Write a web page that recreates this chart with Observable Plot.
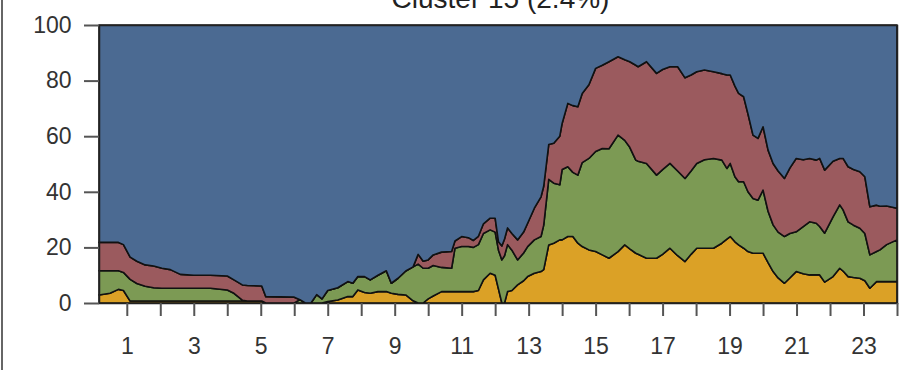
<!DOCTYPE html>
<html>
<head>
<meta charset="utf-8">
<script src="https://cdn.jsdelivr.net/npm/d3@7"></script>
<script src="https://cdn.jsdelivr.net/npm/@observablehq/plot@0.6"></script>
<style>
  html, body { margin: 0; padding: 0; background: #fff; }
  body { width: 901px; height: 370px; position: relative; overflow: hidden; font-family: "Liberation Sans", Arial, sans-serif; }
  #edge { position: absolute; left: 1px; top: 0; width: 2px; height: 370px; background: #666; }
  #chart { position: absolute; left: 0; top: 0; }
</style>
</head>
<body>
<div id="chart"></div>
<div id="edge"></div>
<script>
const title = "Cluster 15 (2.4%)";
const seriesNames = ["S1", "S2", "S3", "S4"]; // bottom to top
const seriesColors = ["#dba126", "#7c9a54", "#9b5a5e", "#4b6a92"];
const xTicks = [1,2,3,4,5,6,7,8,9,10,11,12,13,14,15,16,17,18,19,20,21,22,23,24];
const xTickLabels = ["1","","3","","5","","7","","9","","11","","13","","15","","17","","19","","21","","23",""];
const yTicks = [0, 20, 40, 60, 80, 100];

const hours = [0.17,0.5,0.75,0.9,1.1,1.3,1.55,1.8,2.05,2.3,2.6,3.0,3.5,4.0,4.2,4.45,4.6,5.03,5.15,6.0,6.17,6.33,6.5,6.67,6.83,7.0,7.3,7.6,7.75,7.9,8.1,8.27,8.5,8.75,8.9,9.1,9.33,9.55,9.7,9.85,10.0,10.15,10.4,10.7,10.8,11.0,11.2,11.35,11.5,11.65,11.85,12.0,12.1,12.2,12.28,12.37,12.5,12.67,12.85,12.97,13.17,13.37,13.45,13.6,13.75,13.93,14.0,14.17,14.32,14.47,14.6,14.8,15.0,15.2,15.4,15.67,15.87,16.02,16.2,16.27,16.52,16.82,17.0,17.22,17.45,17.67,17.85,18.02,18.25,18.52,18.77,18.92,19.02,19.16,19.27,19.42,19.55,19.7,19.85,20.0,20.15,20.3,20.45,20.64,20.8,20.99,21.2,21.39,21.59,21.69,21.84,22.09,22.29,22.39,22.54,22.7,22.89,23.04,23.19,23.39,23.49,23.69,24.0];

const s1 = [2.9,3.5,4.9,4.5,0.7,0.7,0.7,0.7,0.7,0.7,0.7,0.7,0.7,0.7,0.7,0.7,0.7,0.7,0,0,0,0,0,0,0,0.5,1.1,2.3,2.3,4.7,3.8,3.5,4.1,4.1,3.5,3.1,2.9,0.8,0,0,1.5,2.5,4.1,4.1,4.1,4.1,4.1,4.1,4.5,8.3,10.7,10,5,0,0,4.1,4.5,6.5,8,9.5,10.7,11.3,12,20.9,21.5,22.7,22.7,23.9,23.9,21.5,20.3,19.1,18.5,17.3,16.1,18.5,20.9,19.5,17.9,17.5,16.1,16.1,17.5,19.7,17,14.9,17.5,19.7,19.7,19.7,21.5,23,23.9,22,20.9,19.7,18.5,17.9,17.9,17.9,14.5,11.3,9,7.1,9,11.3,10.5,10.1,10.1,10.1,7.5,9.5,12.5,11.5,9.5,9.2,8.9,8,5.3,7.7,7.7,7.7,7.7];
const s2 = [8.7,8.1,6.7,6.5,7.8,6.3,5.3,4.8,4.6,4.6,4.6,4.6,4.6,4.0,2.8,0.3,0,0,0,0,1.2,0,0,3,1.5,4.0,4.4,5.4,4.8,4.8,5.7,4.8,5.9,7.5,3.6,5.8,8.6,12.2,14,12.5,11,11,8.7,8.4,15.6,16.2,16.2,15.9,16.5,16.7,15.6,15.5,14,15.5,17,16.9,14.5,9,10,10.8,12,12.6,16,23.6,21.6,19.8,25.3,25.1,23.1,24.5,30.2,32.9,36,38.3,39.4,41.9,37.6,36.5,33.5,33.5,34.1,29.9,30.5,30.5,30.5,29.9,30,30.5,31.8,32.3,29.9,25.4,26.3,23.4,22.7,23.9,21.5,19.7,19.1,22.7,18.5,16.8,16.5,16.8,16,14.3,17,19.1,18.6,17.4,17.6,21.5,22.8,22,19.7,18.8,18,17,12,10.8,11.4,13.3,15];
const s3 = [10.2,10.2,10.2,10.0,8.0,8.0,7.7,7.8,7.2,6.7,5.0,4.7,4.7,5.0,4.8,5.5,5.6,5.4,2.3,2.1,0,0,0,0,0,0,0,0,0,0,0,0,0,0,0,0,0,0,3.5,2.5,3,3.8,5.5,6,2.6,3.6,3.2,2.5,3,3.5,4.2,5,3,5,6,6,6,7.2,7.5,8.4,11.4,14.3,14,12.5,14.4,17.5,16.6,22.8,24,24.6,24.9,26.5,29.9,29.9,31.3,28.2,29,30.8,34.1,34,36.6,36.6,36,34.8,37.5,36.2,34.5,33,32.3,31.2,31.1,33.6,31.8,32.6,31.8,30.6,28,22.8,22.2,22.8,22,22.1,22,20.9,23.5,26.4,24,22.8,22.7,24.5,22.7,20,16.7,18.5,19.8,20,20.3,20.4,17.3,16.7,15.7,13.9,11.4];
const s4 = [78.2,78.2,78.2,79.0,83.5,85.0,86.3,86.7,87.5,88.0,89.7,90.0,90.0,90.3,91.7,93.5,93.7,93.9,97.7,97.9,98.8,100,100,97,98.5,95.5,94.5,92.3,92.9,90.5,90.5,91.7,90,88.4,92.9,91.1,88.5,87,82.5,85,84.5,82.7,81.7,81.5,77.7,76.1,76.5,77.5,76,71.5,69.5,69.5,78,79.5,77,73,75,77.3,74.5,71.3,65.9,61.8,58,43,42.5,40,35.4,28.2,29,29.4,24.6,21.5,15.6,14.5,13.2,11.4,12.5,13.2,14.5,15,13.2,17.4,16,15,15,19,18,16.8,16.2,16.8,17.5,18,18,22,24.6,25.8,32,39.6,40.8,36.6,45,49.8,52.5,55.2,51.5,48,48.5,48,48.6,48,52.2,49,48,48,51,52,52.8,54.6,65.4,64.8,65.2,65.1,65.9];

const seriesValues = [s1, s2, s3, s4];
const rows = [];
seriesValues.forEach((vals, k) => {
  vals.forEach((v, i) => rows.push({hour: hours[i], series: seriesNames[k], value: v}));
});

const chart = Plot.plot({
  width: 901,
  height: 370,
  marginLeft: 99,
  marginRight: 4,
  marginTop: 25,
  marginBottom: 67,
  style: {fontFamily: "'Liberation Sans', Arial, sans-serif", fontSize: "23px", color: "#333", background: "transparent"},
  x: {domain: [0.17, 24]},
  y: {domain: [0, 100]},
  color: {domain: seriesNames, range: seriesColors},
  marks: [
    Plot.areaY(rows, {x: "hour", y: "value", z: "series", fill: "series", order: seriesNames, stroke: "#111", strokeWidth: 1.6, strokeLinejoin: "round"}),
    Plot.frame({stroke: "#222", strokeWidth: 1.5}),
    Plot.axisY({ticks: yTicks, tickSize: 15, tickPadding: 13, stroke: "#555", strokeWidth: 2, fill: "#333", label: null, fontSize: 23}),
    Plot.axisX({ticks: xTicks, tickFormat: (d, i) => xTickLabels[xTicks.indexOf(d)], tickSize: 13, tickPadding: 21, stroke: "#555", strokeWidth: 2, fill: "#333", label: null, fontSize: 23}),
    Plot.text([title], {text: d => d, frameAnchor: "top", lineAnchor: "bottom", dy: -18, dx: 2, fontSize: 28, fill: "#222"})
  ]
});
document.getElementById("chart").appendChild(chart);
</script>
</body>
</html>
